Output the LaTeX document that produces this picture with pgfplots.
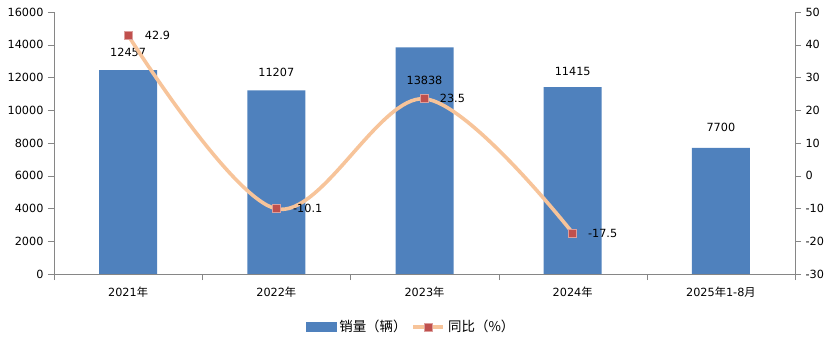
\documentclass[border=0pt]{standalone}
\usepackage{pgfplots}
\pgfplotsset{compat=1.18}
\usepackage{fontspec}
\setmainfont{DejaVu Sans}
\newfontfamily\cjk{Noto Sans CJK SC}
\definecolor{barblue}{HTML}{4F81BD}
\definecolor{linepeach}{HTML}{F7C49A}
\definecolor{mkred}{HTML}{C0504D}
\definecolor{axgray}{HTML}{868686}
\pgfplotsset{
  longline legend/.style={legend image code/.code={\draw[mark repeat=2,mark phase=2,##1] plot coordinates {(0bp,0bp) (15bp,0bp) (30bp,0bp)};}},
  barrect legend/.style={legend image code/.code={\fill[barblue] (0bp,-4.5bp) rectangle (30bp,4.5bp);}},
}
\begin{document}
\begin{tikzpicture}[font=\fontsize{11.3}{13}\selectfont]
\useasboundingbox (-54bp,-73bp) rectangle (782bp,274bp);
\begin{axis}[
  at={(0,0)}, anchor=south west,
  scale only axis, width=741bp, height=262bp,
  xmin=-0.5, xmax=4.5, ymin=0, ymax=16000,
  ytick={0,2000,...,16000},
  /pgf/number format/assume math mode=true,
  scaled y ticks=false,
  /pgf/number format/fixed, /pgf/number format/1000 sep={},
  xtick={0,1,2,3,4},
  xticklabels={2021{\cjk 年},2022{\cjk 年},2023{\cjk 年},2024{\cjk 年},2025{\cjk 年}1-8{\cjk 月}},
  major x tick style={draw=none},
  minor xtick={-0.5,0.5,...,4.5},
  minor tick length=6bp,
  major tick length=6bp,
  tick align=outside,
  xtick pos=bottom, ytick pos=left,
  axis line style={axgray},
  tick style={axgray},
  axis x line*=bottom, axis y line*=left,
  xticklabel style={yshift=-3bp},
  yticklabel style={xshift=-1bp},
  ybar, bar width=58bp,
]
\addplot[fill=barblue, draw=none] coordinates {(0,12457) (1,11207) (2,13838) (3,11415) (4,7700)};
\node at (axis cs:0,13550) {12457};
\node at (axis cs:1,12300) {11207};
\node at (axis cs:2,11850) {13838};
\node at (axis cs:3,12350) {11415};
\node at (axis cs:4,8950) {7700};
\end{axis}
\begin{axis}[
  at={(0,0)}, anchor=south west,
  scale only axis, width=741bp, height=262bp,
  xmin=-0.5, xmax=4.5, ymin=-30, ymax=50,
  ytick={-30,-20,...,50},
  /pgf/number format/assume math mode=true,
  axis y line*=right, axis x line=none,
  axis line style={axgray}, tick style={axgray},
  tick align=outside, major tick length=6bp,
  yticklabel style={xshift=1bp},
  legend columns=2,
  legend style={at={(0.482,-0.202)}, anchor=center, draw=none, fill=none,
    font=\cjk\fontsize{13.5}{15}\selectfont,
    /tikz/every odd column/.append style={column sep=1bp},
    /tikz/every even column/.append style={column sep=3bp},
    nodes={inner xsep=2bp}},
]
\addlegendimage{barrect legend}
\addlegendentry{销量（辆）}
\addplot[linepeach, line width=3.6bp, smooth, tension=0.55,
  mark=square*, mark size=4bp, mark options={fill=mkred, draw=mkred!55!white, line width=0.8bp},
  longline legend]
  coordinates {(0,42.9) (1,-10.1) (2,23.5) (3,-17.5)};
\addlegendentry{同比（\%）}
\node[anchor=west] at (axis cs:0.09,42.9) {42.9};
\node[anchor=west] at (axis cs:1.09,-10.1) {-10.1};
\node[anchor=west] at (axis cs:2.08,23.5) {23.5};
\node[anchor=west] at (axis cs:3.08,-17.5) {-17.5};
\end{axis}
\end{tikzpicture}
\end{document}
